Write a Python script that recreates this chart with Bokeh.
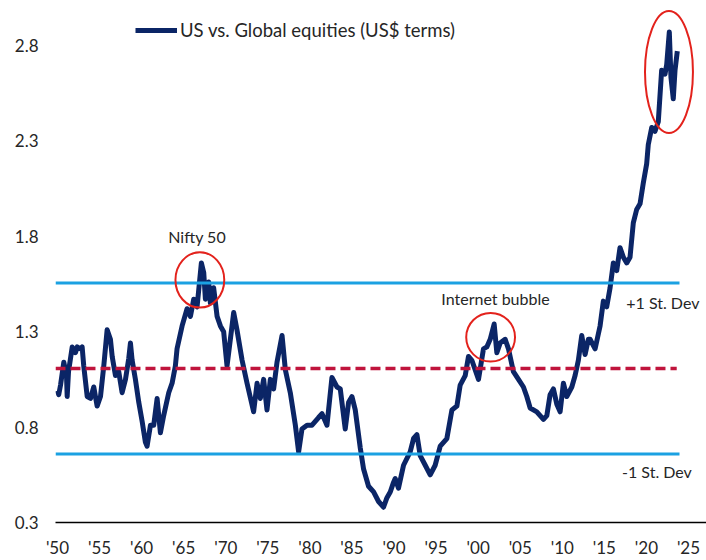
from bokeh.plotting import figure
from bokeh.models import FixedTicker, Legend, LegendItem, Label, Range1d
from bokeh.embed import file_html
from bokeh.resources import INLINE

# ---- data ----
years = [1950.00, 1950.15, 1950.36, 1950.75, 1951.07, 1951.15, 1951.31, 1951.75, 1952.14, 1952.34,
         1952.73, 1952.93, 1953.12, 1953.53, 1953.92, 1954.31, 1954.71, 1955.11, 1955.50, 1955.90,
         1956.29, 1956.50, 1956.89, 1957.28, 1957.68, 1958.08, 1958.47, 1958.67, 1958.87, 1959.26,
         1959.66, 1960.06, 1960.45, 1960.65, 1961.05, 1961.44, 1961.84, 1962.23, 1962.62, 1963.22,
         1963.62, 1964.01, 1964.21, 1964.81, 1965.40, 1965.80, 1966.19, 1966.59, 1967.10, 1967.38,
         1967.58, 1967.97, 1968.17, 1968.56, 1968.97, 1969.36, 1969.75, 1970.15, 1970.94, 1971.33,
         1971.94, 1972.53, 1973.31, 1973.72, 1974.11, 1974.50, 1974.90, 1975.30, 1975.69, 1976.09,
         1976.69, 1977.08, 1977.67, 1978.27, 1978.66, 1979.06, 1979.66, 1980.25, 1980.64, 1981.03,
         1981.44, 1982.03, 1982.62, 1983.22, 1983.61, 1984.20, 1984.60, 1985.00, 1985.39, 1985.99,
         1986.38, 1986.97, 1987.57, 1988.16, 1988.75, 1989.16, 1989.55, 1989.94, 1990.14, 1990.53,
         1991.13, 1991.92, 1992.32, 1992.72, 1993.11, 1993.71, 1994.30, 1994.89, 1995.49, 1996.28,
         1996.88, 1997.47, 1997.86, 1998.46, 1998.85, 1999.25, 2000.04, 2000.63, 2001.03, 2001.43,
         2001.90, 2002.22, 2002.61, 2003.21, 2003.60, 2004.19, 2004.79, 2005.38, 2005.78, 2006.18,
         2006.97, 2007.76, 2008.16, 2008.55, 2008.94, 2009.35, 2009.74, 2010.13, 2010.53, 2011.13,
         2011.52, 2011.91, 2012.31, 2012.71, 2013.10, 2013.30, 2013.90, 2014.49, 2014.88, 2015.28,
         2015.68, 2016.07, 2016.47, 2016.86, 2017.26, 2017.66, 2018.05, 2018.44, 2018.84, 2019.24,
         2019.63, 2020.03, 2020.22, 2020.63, 2021.02, 2021.41, 2021.81, 2022.21, 2022.41, 2022.72,
         2022.92, 2023.19, 2023.40, 2023.67]

ratio = [0.99, 0.97, 1.02, 1.14, 1.07, 0.96, 1.09, 1.22, 1.19, 1.22,
         1.21, 1.22, 1.12, 0.96, 0.95, 1.01, 0.91, 0.96, 1.12, 1.31,
         1.26, 1.17, 1.07, 1.09, 0.98, 1.05, 1.16, 1.24, 1.15, 1.05,
         0.93, 0.83, 0.72, 0.70, 0.81, 0.81, 0.95, 0.77, 0.86, 0.98,
         1.03, 1.12, 1.21, 1.33, 1.42, 1.38, 1.47, 1.43, 1.66, 1.61,
         1.47, 1.56, 1.45, 1.53, 1.38, 1.33, 1.30, 1.12, 1.40, 1.31,
         1.15, 1.03, 0.88, 1.03, 0.95, 1.05, 0.89, 1.05, 1.00, 1.14,
         1.28, 1.10, 0.98, 0.81, 0.67, 0.79, 0.81, 0.81, 0.83, 0.85,
         0.87, 0.81, 1.06, 1.01, 1.00, 0.79, 0.93, 0.96, 0.89, 0.69,
         0.58, 0.49, 0.46, 0.41, 0.38, 0.43, 0.46, 0.51, 0.53, 0.48,
         0.60, 0.67, 0.74, 0.76, 0.65, 0.60, 0.55, 0.60, 0.70, 0.74,
         0.89, 0.91, 1.02, 1.07, 1.17, 1.15, 1.05, 1.21, 1.22, 1.26,
         1.34, 1.19, 1.24, 1.26, 1.21, 1.09, 1.05, 1.01, 0.96, 0.90,
         0.88, 0.84, 0.86, 0.97, 1.00, 0.92, 0.88, 1.03, 0.96, 1.01,
         1.07, 1.15, 1.28, 1.18, 1.26, 1.26, 1.21, 1.33, 1.46, 1.43,
         1.53, 1.66, 1.62, 1.74, 1.69, 1.66, 1.69, 1.87, 1.94, 1.97,
         2.08, 2.18, 2.28, 2.37, 2.35, 2.40, 2.67, 2.65, 2.70, 2.87,
         2.63, 2.52, 2.67, 2.77]

mean_level = 1.107
plus_sd = 1.555
minus_sd = 0.659

x_ticks = [1950, 1955, 1960, 1965, 1970, 1975, 1980, 1985, 1990, 1995, 2000,
           2005, 2010, 2015, 2020, 2025]
x_tick_labels = ["'50", "'55", "'60", "'65", "'70", "'75", "'80", "'85", "'90", "'95",
                 "'00", "'05", "'10", "'15", "'20", "'25"]
y_ticks = [0.3, 0.8, 1.3, 1.8, 2.3, 2.8]

# highlighted episodes: centre year, centre value, width (years), height (ratio)
circle_x = [1966.92, 2001.48, 2022.68]
circle_y = [1.571, 1.271, 2.66]
circle_w = [5.8, 5.8, 5.7]
circle_h = [0.29, 0.255, 0.64]

series_label = "US vs. Global equities (US$ terms)"
FONT = "Lato"
TXT = "#262626"

p = figure(width=706, height=560, output_backend="svg", toolbar_location=None,
           x_range=Range1d(1949.762, 2027.14), y_range=Range1d(0.3, 3.009),
           min_border_left=55, min_border_right=0, min_border_top=5, min_border_bottom=35)
p.outline_line_color = None
p.xgrid.grid_line_color = None
p.ygrid.grid_line_color = None
p.background_fill_color = "white"

line_r = p.line(years, ratio, line_color="#0b2566", line_width=5, line_join="round")

line_start = years[0] - 0.24
line_end = 2023.93
p.line([line_start, line_end], [plus_sd, plus_sd], line_color="#1ba1e2", line_width=3)
p.line([line_start, line_end], [minus_sd, minus_sd], line_color="#1ba1e2", line_width=3)
p.line([line_start, 2023.6], [mean_level, mean_level], line_color="#c0143c",
       line_width=3.5, line_dash="10 5")

p.ellipse(x=circle_x, y=circle_y, width=circle_w, height=circle_h,
          fill_color=None, line_color="#e3221c", line_width=2)

# axes
p.xaxis.ticker = FixedTicker(ticks=x_ticks)
p.xaxis.major_label_overrides = {t: l for t, l in zip(x_ticks, x_tick_labels)}
p.xaxis.major_tick_line_color = None
p.xaxis.major_tick_out = 0
p.xaxis.major_tick_in = 0
p.xaxis.minor_tick_line_color = None
p.xaxis.axis_line_color = "#000000"
p.xaxis.axis_line_width = 1.3
p.xaxis.major_label_text_font = FONT
p.xaxis.major_label_text_font_size = "17px"
p.xaxis.major_label_text_color = TXT
p.xaxis.major_label_standoff = 14

p.yaxis.ticker = FixedTicker(ticks=y_ticks)
p.yaxis.major_label_overrides = {t: f"{t:.1f}" for t in y_ticks}
p.yaxis.major_tick_line_color = None
p.yaxis.major_tick_out = 0
p.yaxis.major_tick_in = 0
p.yaxis.minor_tick_line_color = None
p.yaxis.axis_line_color = None
p.yaxis.major_label_text_font = FONT
p.yaxis.major_label_text_font_size = "17px"
p.yaxis.major_label_text_color = TXT
p.yaxis.major_label_standoff = 17

# annotations
def add_label(x, y, text, align="center"):
    p.add_layout(Label(x=x, y=y, text=text, text_font=FONT, text_font_size="16px",
                       text_color=TXT, text_align=align, text_baseline="middle"))

add_label(1966.6, 1.80, "Nifty 50")
add_label(2002.06, 1.474, "Internet bubble")
add_label(2017.6, 1.453, "+1 St. Dev", align="left")
add_label(2017.1, 0.566, "-1 St. Dev", align="left")

legend = Legend(items=[LegendItem(label=series_label, renderers=[line_r])],
                location=(80, 481), padding=0, margin=0, spacing=0,
                glyph_width=42, glyph_height=20, label_standoff=3,
                label_text_font=FONT, label_text_font_size="18.5px", label_text_color=TXT,
                border_line_color=None, background_fill_alpha=0)
p.add_layout(legend, "center")

open("out.html", "w").write(file_html(p, INLINE))
